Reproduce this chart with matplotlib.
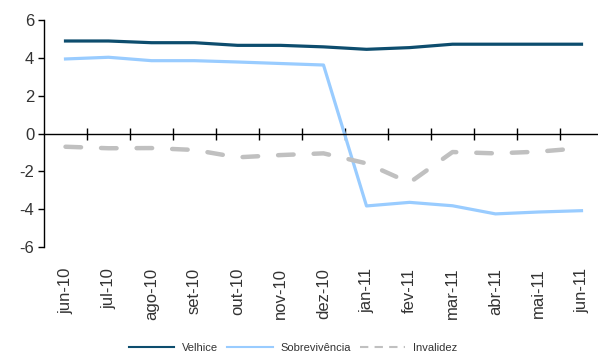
import matplotlib
matplotlib.use('Agg')
import matplotlib.pyplot as plt
from matplotlib.ticker import FixedLocator

plt.rcParams['font.family'] = ['Liberation Sans', 'DejaVu Sans']
plt.rcParams['axes.unicode_minus'] = False

meses = ['jun-10', 'jul-10', 'ago-10', 'set-10', 'out-10', 'nov-10', 'dez-10',
         'jan-11', 'fev-11', 'mar-11', 'abr-11', 'mai-11', 'jun-11']
velhice = [4.89, 4.89, 4.80, 4.80, 4.66, 4.66, 4.58, 4.45, 4.54, 4.72, 4.72, 4.72, 4.72]
sobrevivencia = [3.94, 4.03, 3.85, 3.85, 3.78, 3.70, 3.62, -3.83, -3.64, -3.82, -4.25, -4.15, -4.08]
invalidez = [-0.70, -0.78, -0.77, -0.87, -1.26, -1.14, -1.05, -1.58, -2.60, -0.98, -1.05, -0.96, -0.77]

fig = plt.figure(figsize=(5.98, 3.52), dpi=100)
ax = fig.add_axes([44/598, 1-247/352, 554/598, 227/352])

x = range(len(meses))
l1, = ax.plot(x, velhice, color='#0d4d6e', lw=2.3, label='Velhice')
l2, = ax.plot(x, sobrevivencia, color='#99ccff', lw=2.3, label='Sobrevivência')
l3, = ax.plot(x, invalidez, color='#c0c0c0', lw=3.2, dashes=(3.5, 4.5),
              dash_capstyle='round', label='Invalidez')

ax.set_ylim(-6, 6)
ax.set_xlim(-0.5, -0.5 + 554/43)
ax.set_yticks([-6, -4, -2, 0, 2, 4, 6])
ax.tick_params(axis='y', direction='out', length=4, width=1, labelsize=12,
               colors='black', labelcolor='#333333', pad=3)

for s in ['top', 'right']:
    ax.spines[s].set_visible(False)
ax.spines['left'].set_linewidth(1)
ax.spines['bottom'].set_position(('data', 0))
ax.spines['bottom'].set_linewidth(1)
ax.set_xticks([])
ax.xaxis.set_minor_locator(FixedLocator([i + 0.5 for i in range(len(meses) - 1)]))
ax.tick_params(axis='x', which='minor', direction='inout', length=8, width=1)

sec = ax.secondary_xaxis('bottom')
sec.set_xticks(list(x))
sec.set_xticklabels(meses, rotation=90)
sec.spines['bottom'].set_visible(False)
sec.tick_params(length=0, pad=15, labelsize=12, labelcolor='#333333')

leg = fig.legend(handles=[l1, l2, l3], loc='lower center', bbox_to_anchor=(0.49, -0.03),
                 ncol=3, frameon=False, fontsize=8, handlelength=4.1,
                 columnspacing=0.8, handletextpad=0.7)
for h in leg.get_lines():
    h.set_linewidth(1.5)
leg.get_lines()[2].set_dashes((4, 3))
leg.get_lines()[2].set_dash_capstyle('butt')
for t in leg.get_texts():
    t.set_color('#333333')

fig.savefig('out.png', dpi=100)
